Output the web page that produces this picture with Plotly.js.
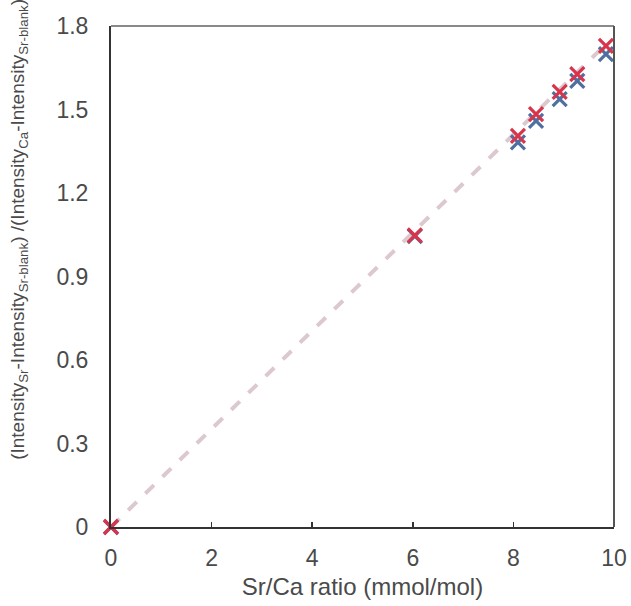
<!DOCTYPE html>
<html>
<head>
<meta charset="utf-8">
<script src="https://cdn.plot.ly/plotly-3.0.1.min.js"></script>
<style>html,body{margin:0;padding:0;background:#fff;}#chart{width:631px;height:606px;}</style>
</head>
<body>
<div id="chart"></div>
<script>
// Data
const srCaRatio   = [0, 6.04, 8.09, 8.45, 8.92, 9.27, 9.84];
const seriesBlue  = [0, 1.045, 1.382, 1.459, 1.537, 1.603, 1.699];
const seriesRed   = [0, 1.048, 1.405, 1.483, 1.563, 1.627, 1.729];
const trendX      = [0, 9.9];
const trendY      = [0, 1.745];
const xTicks      = [0, 2, 4, 6, 8, 10];
const yTicks      = [0, 0.3, 0.6, 0.9, 1.2, 1.5, 1.8];
const yTickLabels = ['0', '0.3', '0.6', '0.9', '1.2', '1.5', '1.8'];

const traces = [
  {x: trendX, y: trendY, mode: 'lines', line: {color: '#dcc9cd', width: 4, dash: 'dash'}, hoverinfo: 'skip', showlegend: false},
  {x: srCaRatio, y: seriesBlue, mode: 'markers', cliponaxis: false, marker: {symbol: 'x-thin', size: 14, line: {color: '#4f6f9f', width: 3.2}}, showlegend: false},
  {x: srCaRatio, y: seriesRed, mode: 'markers', cliponaxis: false, marker: {symbol: 'x-thin', size: 14, line: {color: '#d8344c', width: 3.2}}, showlegend: false}
];

const layout = {
  width: 631, height: 606,
  margin: {l: 111, r: 17, t: 26, b: 79},
  paper_bgcolor: '#fff', plot_bgcolor: '#fff',
  font: {family: 'Liberation Sans, Arial, sans-serif', color: '#333'},
  xaxis: {
    range: [0, 10], tickvals: xTicks, ticks: 'inside', ticklen: 5, tickcolor: '#333', tickwidth: 1.5,
    showgrid: false, zeroline: false, showline: true, linecolor: '#333', linewidth: 2,
    tickfont: {size: 23, color: '#4a4a4a'}, ticklabelstandoff: 9,
    title: {text: 'Sr/Ca ratio (mmol/mol)', font: {size: 24, color: '#4a4a4a'}, standoff: 9}
  },
  yaxis: {
    range: [0, 1.8], tickvals: yTicks, ticktext: yTickLabels, ticks: '',
    showgrid: false, zeroline: false, showline: true, linecolor: '#333', linewidth: 2,
    tickfont: {size: 23, color: '#4a4a4a'}, ticklabelstandoff: 16
  },
  shapes: [
    {type: 'line', xref: 'paper', yref: 'paper', x0: 0, x1: 1, y0: 1, y1: 1, line: {color: '#8a8a8a', width: 2}},
    {type: 'line', xref: 'paper', yref: 'paper', x0: 1, x1: 1, y0: 0, y1: 1, line: {color: '#555', width: 2}}
  ],
  annotations: [{
    xref: 'paper', yref: 'paper', x: -0.183, y: 0.595, xanchor: 'center', yanchor: 'middle',
    textangle: -90, showarrow: false,
    font: {size: 19, color: '#4a4a4a'},
    text: '(Intensity<sub>Sr</sub>-Intensity<sub>Sr-blank</sub>) /(Intensity<sub>Ca</sub>-Intensity<sub>Sr-blank</sub>)'
  }]
};

Plotly.newPlot('chart', traces, layout, {displayModeBar: false, staticPlot: true});
</script>
</body>
</html>
